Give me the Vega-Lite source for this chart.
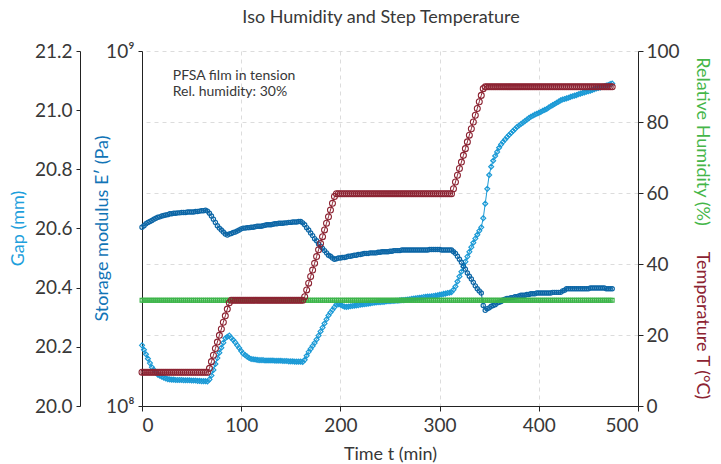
{
"$schema": "https://vega.github.io/schema/vega-lite/v6.json",
"width": 496, "height": 355,
"autosize": {"type": "none"},
"padding": {"left": 142, "top": 51, "right": 83, "bottom": 58},
"title": {"text": "Iso Humidity and Step Temperature", "fontSize": 18, "font": "Lato", "fontWeight": "normal", "color": "#383838", "anchor": "middle", "frame": "group", "offset": 15, "dx": -9},
"config": {
  "font": "Lato",
  "view": {"stroke": null},
  "axis": {"labelFontSize": 19, "titleFontSize": 18, "labelColor": "#383838", "titleColor": "#383838", "titleFontWeight": "normal", "domainColor": "#222222", "tickColor": "#222222", "gridColor": "#dcdcdc", "gridDash": [4, 4], "labelFont": "Lato", "titleFont": "Lato"}
},
"data": {"values": [
{"t":0,"gap":20.205,"E":3.19e8,"rh":29.8,"T":9.5},
{"t":2,"gap":20.190,"E":3.22e8,"rh":29.8,"T":9.5},
{"t":4,"gap":20.175,"E":3.26e8,"rh":29.8,"T":9.5},
{"t":6,"gap":20.160,"E":3.29e8,"rh":29.8,"T":9.5},
{"t":8,"gap":20.145,"E":3.31e8,"rh":29.8,"T":9.5},
{"t":10,"gap":20.131,"E":3.33e8,"rh":29.8,"T":9.5},
{"t":12,"gap":20.122,"E":3.36e8,"rh":29.8,"T":9.5},
{"t":14,"gap":20.114,"E":3.38e8,"rh":29.8,"T":9.5},
{"t":16,"gap":20.106,"E":3.40e8,"rh":29.8,"T":9.5},
{"t":18,"gap":20.102,"E":3.41e8,"rh":29.8,"T":9.5},
{"t":20,"gap":20.099,"E":3.43e8,"rh":29.8,"T":9.5},
{"t":22,"gap":20.096,"E":3.44e8,"rh":29.8,"T":9.5},
{"t":24,"gap":20.093,"E":3.45e8,"rh":29.8,"T":9.5},
{"t":26,"gap":20.091,"E":3.46e8,"rh":29.8,"T":9.5},
{"t":28,"gap":20.090,"E":3.48e8,"rh":29.8,"T":9.5},
{"t":30,"gap":20.089,"E":3.48e8,"rh":29.8,"T":9.5},
{"t":32,"gap":20.089,"E":3.49e8,"rh":29.8,"T":9.5},
{"t":34,"gap":20.088,"E":3.49e8,"rh":29.8,"T":9.5},
{"t":36,"gap":20.088,"E":3.50e8,"rh":29.8,"T":9.5},
{"t":38,"gap":20.088,"E":3.50e8,"rh":29.8,"T":9.5},
{"t":40,"gap":20.088,"E":3.51e8,"rh":29.8,"T":9.5},
{"t":42,"gap":20.087,"E":3.51e8,"rh":29.8,"T":9.5},
{"t":44,"gap":20.087,"E":3.51e8,"rh":29.8,"T":9.5},
{"t":46,"gap":20.087,"E":3.52e8,"rh":29.8,"T":9.5},
{"t":48,"gap":20.087,"E":3.52e8,"rh":29.8,"T":9.5},
{"t":50,"gap":20.086,"E":3.52e8,"rh":29.8,"T":9.5},
{"t":52,"gap":20.086,"E":3.52e8,"rh":29.8,"T":9.5},
{"t":54,"gap":20.086,"E":3.53e8,"rh":29.8,"T":9.5},
{"t":56,"gap":20.085,"E":3.53e8,"rh":29.8,"T":9.5},
{"t":58,"gap":20.085,"E":3.54e8,"rh":29.8,"T":9.5},
{"t":60,"gap":20.084,"E":3.55e8,"rh":29.8,"T":9.5},
{"t":62,"gap":20.084,"E":3.55e8,"rh":29.8,"T":9.5},
{"t":64,"gap":20.084,"E":3.56e8,"rh":29.8,"T":9.5},
{"t":66,"gap":20.083,"E":3.54e8,"rh":29.8,"T":9.5},
{"t":68,"gap":20.090,"E":3.49e8,"rh":29.8,"T":10.6},
{"t":70,"gap":20.103,"E":3.43e8,"rh":29.8,"T":12.5},
{"t":72,"gap":20.122,"E":3.36e8,"rh":29.8,"T":14.3},
{"t":74,"gap":20.142,"E":3.29e8,"rh":29.8,"T":16.2},
{"t":76,"gap":20.162,"E":3.22e8,"rh":29.8,"T":18.0},
{"t":78,"gap":20.180,"E":3.17e8,"rh":29.8,"T":19.9},
{"t":80,"gap":20.197,"E":3.13e8,"rh":29.8,"T":21.7},
{"t":82,"gap":20.214,"E":3.09e8,"rh":29.8,"T":23.6},
{"t":84,"gap":20.229,"E":3.05e8,"rh":29.8,"T":25.4},
{"t":86,"gap":20.234,"E":3.03e8,"rh":29.8,"T":27.3},
{"t":88,"gap":20.238,"E":3.05e8,"rh":29.8,"T":29.1},
{"t":90,"gap":20.230,"E":3.06e8,"rh":29.8,"T":29.8},
{"t":92,"gap":20.223,"E":3.08e8,"rh":29.8,"T":29.8},
{"t":94,"gap":20.215,"E":3.09e8,"rh":29.8,"T":29.8},
{"t":96,"gap":20.205,"E":3.11e8,"rh":29.8,"T":29.8},
{"t":98,"gap":20.196,"E":3.13e8,"rh":29.8,"T":29.8},
{"t":100,"gap":20.186,"E":3.155e8,"rh":29.8,"T":29.8},
{"t":102,"gap":20.177,"E":3.17e8,"rh":29.8,"T":29.8},
{"t":104,"gap":20.172,"E":3.17e8,"rh":29.8,"T":29.8},
{"t":106,"gap":20.167,"E":3.18e8,"rh":29.8,"T":29.8},
{"t":108,"gap":20.162,"E":3.18e8,"rh":29.8,"T":29.8},
{"t":110,"gap":20.159,"E":3.19e8,"rh":29.8,"T":29.8},
{"t":112,"gap":20.158,"E":3.19e8,"rh":29.8,"T":29.8},
{"t":114,"gap":20.157,"E":3.20e8,"rh":29.8,"T":29.8},
{"t":116,"gap":20.156,"E":3.21e8,"rh":29.8,"T":29.8},
{"t":118,"gap":20.155,"E":3.21e8,"rh":29.8,"T":29.8},
{"t":120,"gap":20.155,"E":3.21e8,"rh":29.8,"T":29.8},
{"t":122,"gap":20.155,"E":3.22e8,"rh":29.8,"T":29.8},
{"t":124,"gap":20.154,"E":3.23e8,"rh":29.8,"T":29.8},
{"t":126,"gap":20.154,"E":3.24e8,"rh":29.8,"T":29.8},
{"t":128,"gap":20.154,"E":3.24e8,"rh":29.8,"T":29.8},
{"t":130,"gap":20.154,"E":3.24e8,"rh":29.8,"T":29.8},
{"t":132,"gap":20.154,"E":3.25e8,"rh":29.8,"T":29.8},
{"t":134,"gap":20.153,"E":3.26e8,"rh":29.8,"T":29.8},
{"t":136,"gap":20.153,"E":3.26e8,"rh":29.8,"T":29.8},
{"t":138,"gap":20.153,"E":3.27e8,"rh":29.8,"T":29.8},
{"t":140,"gap":20.153,"E":3.27e8,"rh":29.8,"T":29.8},
{"t":142,"gap":20.152,"E":3.27e8,"rh":29.8,"T":29.8},
{"t":144,"gap":20.152,"E":3.28e8,"rh":29.8,"T":29.8},
{"t":146,"gap":20.152,"E":3.28e8,"rh":29.8,"T":29.8},
{"t":148,"gap":20.151,"E":3.29e8,"rh":29.8,"T":29.8},
{"t":150,"gap":20.151,"E":3.29e8,"rh":29.8,"T":29.8},
{"t":152,"gap":20.151,"E":3.30e8,"rh":29.8,"T":29.8},
{"t":154,"gap":20.150,"E":3.30e8,"rh":29.8,"T":29.8},
{"t":156,"gap":20.150,"E":3.30e8,"rh":29.8,"T":29.8},
{"t":158,"gap":20.150,"E":3.31e8,"rh":29.8,"T":29.8},
{"t":160,"gap":20.150,"E":3.31e8,"rh":29.8,"T":29.8},
{"t":162,"gap":20.149,"E":3.28e8,"rh":29.8,"T":29.8},
{"t":164,"gap":20.156,"E":3.24e8,"rh":29.8,"T":30.8},
{"t":166,"gap":20.170,"E":3.18e8,"rh":29.8,"T":32.7},
{"t":168,"gap":20.183,"E":3.13e8,"rh":29.8,"T":34.6},
{"t":170,"gap":20.193,"E":3.07e8,"rh":29.8,"T":36.5},
{"t":172,"gap":20.203,"E":3.02e8,"rh":29.8,"T":38.3},
{"t":174,"gap":20.213,"E":2.96e8,"rh":29.8,"T":40.2},
{"t":176,"gap":20.225,"E":2.92e8,"rh":29.8,"T":42.1},
{"t":178,"gap":20.238,"E":2.86e8,"rh":29.8,"T":44.0},
{"t":180,"gap":20.252,"E":2.82e8,"rh":29.8,"T":45.8},
{"t":182,"gap":20.265,"E":2.78e8,"rh":29.8,"T":47.7},
{"t":184,"gap":20.279,"E":2.74e8,"rh":29.8,"T":49.6},
{"t":186,"gap":20.293,"E":2.70e8,"rh":29.8,"T":51.5},
{"t":188,"gap":20.306,"E":2.66e8,"rh":29.8,"T":53.3},
{"t":190,"gap":20.316,"E":2.64e8,"rh":29.8,"T":55.2},
{"t":192,"gap":20.325,"E":2.61e8,"rh":29.8,"T":57.1},
{"t":194,"gap":20.334,"E":2.59e8,"rh":29.8,"T":59.0},
{"t":196,"gap":20.343,"E":2.60e8,"rh":29.8,"T":59.8},
{"t":198,"gap":20.344,"E":2.61e8,"rh":29.8,"T":59.8},
{"t":200,"gap":20.342,"E":2.61e8,"rh":29.8,"T":59.8},
{"t":202,"gap":20.339,"E":2.62e8,"rh":29.8,"T":59.8},
{"t":204,"gap":20.336,"E":2.62e8,"rh":29.8,"T":59.8},
{"t":206,"gap":20.335,"E":2.63e8,"rh":29.8,"T":59.8},
{"t":208,"gap":20.336,"E":2.64e8,"rh":29.8,"T":59.8},
{"t":210,"gap":20.337,"E":2.64e8,"rh":29.8,"T":59.8},
{"t":212,"gap":20.338,"E":2.65e8,"rh":29.8,"T":59.8},
{"t":214,"gap":20.339,"E":2.66e8,"rh":29.8,"T":59.8},
{"t":216,"gap":20.340,"E":2.66e8,"rh":29.8,"T":59.8},
{"t":218,"gap":20.341,"E":2.67e8,"rh":29.8,"T":59.8},
{"t":220,"gap":20.342,"E":2.67e8,"rh":29.8,"T":59.8},
{"t":222,"gap":20.343,"E":2.68e8,"rh":29.8,"T":59.8},
{"t":224,"gap":20.344,"E":2.69e8,"rh":29.8,"T":59.8},
{"t":226,"gap":20.345,"E":2.69e8,"rh":29.8,"T":59.8},
{"t":228,"gap":20.346,"E":2.69e8,"rh":29.8,"T":59.8},
{"t":230,"gap":20.347,"E":2.70e8,"rh":29.8,"T":59.8},
{"t":232,"gap":20.348,"E":2.70e8,"rh":29.8,"T":59.8},
{"t":234,"gap":20.349,"E":2.70e8,"rh":29.8,"T":59.8},
{"t":236,"gap":20.350,"E":2.70e8,"rh":29.8,"T":59.8},
{"t":238,"gap":20.351,"E":2.71e8,"rh":29.8,"T":59.8},
{"t":240,"gap":20.351,"E":2.71e8,"rh":29.8,"T":59.8},
{"t":242,"gap":20.352,"E":2.72e8,"rh":29.8,"T":59.8},
{"t":244,"gap":20.352,"E":2.72e8,"rh":29.8,"T":59.8},
{"t":246,"gap":20.353,"E":2.72e8,"rh":29.8,"T":59.8},
{"t":248,"gap":20.354,"E":2.72e8,"rh":29.8,"T":59.8},
{"t":250,"gap":20.354,"E":2.73e8,"rh":29.8,"T":59.8},
{"t":252,"gap":20.355,"E":2.73e8,"rh":29.8,"T":59.8},
{"t":254,"gap":20.355,"E":2.74e8,"rh":29.8,"T":59.8},
{"t":256,"gap":20.356,"E":2.74e8,"rh":29.8,"T":59.8},
{"t":258,"gap":20.356,"E":2.74e8,"rh":29.8,"T":59.8},
{"t":260,"gap":20.357,"E":2.74e8,"rh":29.8,"T":59.8},
{"t":262,"gap":20.358,"E":2.75e8,"rh":29.8,"T":59.8},
{"t":264,"gap":20.358,"E":2.75e8,"rh":29.8,"T":59.8},
{"t":266,"gap":20.359,"E":2.75e8,"rh":29.8,"T":59.8},
{"t":268,"gap":20.360,"E":2.75e8,"rh":29.8,"T":59.8},
{"t":270,"gap":20.361,"E":2.75e8,"rh":29.8,"T":59.8},
{"t":272,"gap":20.362,"E":2.75e8,"rh":29.8,"T":59.8},
{"t":274,"gap":20.363,"E":2.75e8,"rh":29.8,"T":59.8},
{"t":276,"gap":20.364,"E":2.75e8,"rh":29.8,"T":59.8},
{"t":278,"gap":20.365,"E":2.75e8,"rh":29.8,"T":59.8},
{"t":280,"gap":20.366,"E":2.75e8,"rh":29.8,"T":59.8},
{"t":282,"gap":20.367,"E":2.75e8,"rh":29.8,"T":59.8},
{"t":284,"gap":20.368,"E":2.75e8,"rh":29.8,"T":59.8},
{"t":286,"gap":20.369,"E":2.75e8,"rh":29.8,"T":59.8},
{"t":288,"gap":20.370,"E":2.75e8,"rh":29.8,"T":59.8},
{"t":290,"gap":20.370,"E":2.76e8,"rh":29.8,"T":59.8},
{"t":292,"gap":20.371,"E":2.76e8,"rh":29.8,"T":59.8},
{"t":294,"gap":20.372,"E":2.76e8,"rh":29.8,"T":59.8},
{"t":296,"gap":20.373,"E":2.76e8,"rh":29.8,"T":59.8},
{"t":298,"gap":20.374,"E":2.76e8,"rh":29.8,"T":59.8},
{"t":300,"gap":20.376,"E":2.76e8,"rh":29.8,"T":59.8},
{"t":302,"gap":20.377,"E":2.75e8,"rh":29.8,"T":59.8},
{"t":304,"gap":20.379,"E":2.75e8,"rh":29.8,"T":59.8},
{"t":306,"gap":20.380,"E":2.75e8,"rh":29.8,"T":59.8},
{"t":308,"gap":20.382,"E":2.75e8,"rh":29.8,"T":59.8},
{"t":310,"gap":20.383,"E":2.75e8,"rh":29.8,"T":59.8},
{"t":312,"gap":20.385,"E":2.75e8,"rh":29.8,"T":59.8},
{"t":314,"gap":20.393,"E":2.72e8,"rh":29.8,"T":61.2},
{"t":316,"gap":20.404,"E":2.69e8,"rh":29.8,"T":63.1},
{"t":318,"gap":20.421,"E":2.64e8,"rh":29.8,"T":65.0},
{"t":320,"gap":20.438,"E":2.59e8,"rh":29.8,"T":66.9},
{"t":322,"gap":20.454,"E":2.54e8,"rh":29.8,"T":68.7},
{"t":324,"gap":20.471,"E":2.48e8,"rh":29.8,"T":70.6},
{"t":326,"gap":20.488,"E":2.43e8,"rh":29.8,"T":72.5},
{"t":328,"gap":20.505,"E":2.37e8,"rh":29.8,"T":74.4},
{"t":330,"gap":20.521,"E":2.32e8,"rh":29.8,"T":76.3},
{"t":332,"gap":20.537,"E":2.28e8,"rh":29.8,"T":78.1},
{"t":334,"gap":20.552,"E":2.23e8,"rh":29.8,"T":80.0},
{"t":336,"gap":20.566,"E":2.18e8,"rh":29.8,"T":81.9},
{"t":338,"gap":20.579,"E":2.14e8,"rh":29.8,"T":83.8},
{"t":340,"gap":20.592,"E":2.11e8,"rh":29.8,"T":85.7},
{"t":342,"gap":20.604,"E":2.08e8,"rh":29.8,"T":87.5},
{"t":344,"gap":20.635,"E":1.92e8,"rh":29.8,"T":89.4},
{"t":346,"gap":20.684,"E":1.86e8,"rh":29.8,"T":89.9},
{"t":348,"gap":20.734,"E":1.88e8,"rh":29.8,"T":89.9},
{"t":350,"gap":20.781,"E":1.89e8,"rh":29.8,"T":89.9},
{"t":352,"gap":20.809,"E":1.91e8,"rh":29.8,"T":89.9},
{"t":354,"gap":20.829,"E":1.92e8,"rh":29.8,"T":89.9},
{"t":356,"gap":20.845,"E":1.93e8,"rh":29.8,"T":89.9},
{"t":358,"gap":20.859,"E":1.95e8,"rh":29.8,"T":89.9},
{"t":360,"gap":20.873,"E":1.96e8,"rh":29.8,"T":89.9},
{"t":362,"gap":20.884,"E":1.97e8,"rh":29.8,"T":89.9},
{"t":364,"gap":20.893,"E":1.99e8,"rh":29.8,"T":89.9},
{"t":366,"gap":20.901,"E":2.00e8,"rh":29.8,"T":89.9},
{"t":368,"gap":20.909,"E":2.01e8,"rh":29.8,"T":89.9},
{"t":370,"gap":20.916,"E":2.01e8,"rh":29.8,"T":89.9},
{"t":372,"gap":20.923,"E":2.02e8,"rh":29.8,"T":89.9},
{"t":374,"gap":20.930,"E":2.02e8,"rh":29.8,"T":89.9},
{"t":376,"gap":20.936,"E":2.03e8,"rh":29.8,"T":89.9},
{"t":378,"gap":20.943,"E":2.03e8,"rh":29.8,"T":89.9},
{"t":380,"gap":20.948,"E":2.04e8,"rh":29.8,"T":89.9},
{"t":382,"gap":20.953,"E":2.05e8,"rh":29.8,"T":89.9},
{"t":384,"gap":20.958,"E":2.05e8,"rh":29.8,"T":89.9},
{"t":386,"gap":20.963,"E":2.05e8,"rh":29.8,"T":89.9},
{"t":388,"gap":20.968,"E":2.06e8,"rh":29.8,"T":89.9},
{"t":390,"gap":20.973,"E":2.06e8,"rh":29.8,"T":89.9},
{"t":392,"gap":20.978,"E":2.07e8,"rh":29.8,"T":89.9},
{"t":394,"gap":20.981,"E":2.07e8,"rh":29.8,"T":89.9},
{"t":396,"gap":20.985,"E":2.07e8,"rh":29.8,"T":89.9},
{"t":398,"gap":20.988,"E":2.08e8,"rh":29.8,"T":89.9},
{"t":400,"gap":20.991,"E":2.08e8,"rh":29.8,"T":89.9},
{"t":402,"gap":20.994,"E":2.08e8,"rh":29.8,"T":89.9},
{"t":404,"gap":20.998,"E":2.08e8,"rh":29.8,"T":89.9},
{"t":406,"gap":21.001,"E":2.08e8,"rh":29.8,"T":89.9},
{"t":408,"gap":21.004,"E":2.08e8,"rh":29.8,"T":89.9},
{"t":410,"gap":21.009,"E":2.08e8,"rh":29.8,"T":89.9},
{"t":412,"gap":21.013,"E":2.08e8,"rh":29.8,"T":89.9},
{"t":414,"gap":21.017,"E":2.09e8,"rh":29.8,"T":89.9},
{"t":416,"gap":21.021,"E":2.09e8,"rh":29.8,"T":89.9},
{"t":418,"gap":21.025,"E":2.09e8,"rh":29.8,"T":89.9},
{"t":420,"gap":21.029,"E":2.09e8,"rh":29.8,"T":89.9},
{"t":422,"gap":21.033,"E":2.09e8,"rh":29.8,"T":89.9},
{"t":424,"gap":21.036,"E":2.11e8,"rh":29.8,"T":89.9},
{"t":426,"gap":21.038,"E":2.12e8,"rh":29.8,"T":89.9},
{"t":428,"gap":21.040,"E":2.14e8,"rh":29.8,"T":89.9},
{"t":430,"gap":21.042,"E":2.14e8,"rh":29.8,"T":89.9},
{"t":432,"gap":21.045,"E":2.14e8,"rh":29.8,"T":89.9},
{"t":434,"gap":21.047,"E":2.14e8,"rh":29.8,"T":89.9},
{"t":436,"gap":21.049,"E":2.14e8,"rh":29.8,"T":89.9},
{"t":438,"gap":21.051,"E":2.14e8,"rh":29.8,"T":89.9},
{"t":440,"gap":21.054,"E":2.14e8,"rh":29.8,"T":89.9},
{"t":442,"gap":21.056,"E":2.14e8,"rh":29.8,"T":89.9},
{"t":444,"gap":21.058,"E":2.14e8,"rh":29.8,"T":89.9},
{"t":446,"gap":21.060,"E":2.14e8,"rh":29.8,"T":89.9},
{"t":448,"gap":21.062,"E":2.14e8,"rh":29.8,"T":89.9},
{"t":450,"gap":21.064,"E":2.14e8,"rh":29.8,"T":89.9},
{"t":452,"gap":21.066,"E":2.15e8,"rh":29.8,"T":89.9},
{"t":454,"gap":21.068,"E":2.15e8,"rh":29.8,"T":89.9},
{"t":456,"gap":21.071,"E":2.15e8,"rh":29.8,"T":89.9},
{"t":458,"gap":21.073,"E":2.15e8,"rh":29.8,"T":89.9},
{"t":460,"gap":21.075,"E":2.15e8,"rh":29.8,"T":89.9},
{"t":462,"gap":21.077,"E":2.15e8,"rh":29.8,"T":89.9},
{"t":464,"gap":21.079,"E":2.15e8,"rh":29.8,"T":89.9},
{"t":466,"gap":21.081,"E":2.15e8,"rh":29.8,"T":89.9},
{"t":468,"gap":21.083,"E":2.14e8,"rh":29.8,"T":89.9},
{"t":470,"gap":21.085,"E":2.14e8,"rh":29.8,"T":89.9},
{"t":472,"gap":21.088,"E":2.14e8,"rh":29.8,"T":89.9},
{"t":474,"gap":21.090,"E":2.14e8,"rh":29.8,"T":89.9}
]},
"layer": [
  {
    "mark": {"type": "line", "color": "#1b9ad6", "strokeWidth": 1, "point": {"filled": false, "shape": "diamond", "size": 24, "strokeWidth": 1.2, "color": "#1b9ad6"}},
    "encoding": {
      "x": {"field": "t", "type": "quantitative", "scale": {"domain": [0, 500], "nice": false},
            "axis": {"values": [0, 100, 200, 300, 400, 500], "title": "Time t (min)", "titleFontWeight": "normal", "grid": true, "tickSize": 5, "labelPadding": 5, "titlePadding": 10}},
      "y": {"field": "gap", "type": "quantitative", "scale": {"domain": [20, 21.2], "nice": false, "zero": false},
            "axis": {"orient": "left", "offset": 62, "values": [20, 20.2, 20.4, 20.6, 20.8, 21, 21.2], "format": ".1f", "grid": false, "tickSize": 4, "labelPadding": 4,
                     "title": "Gap (mm)", "titleColor": "#1ea0dc", "titleX": -62, "titleY": 177, "titleAngle": -90, "titleBaseline": "middle", "titleAlign": "center"}}
    }
  },
  {
    "mark": {"type": "line", "color": "#0c66a6", "strokeWidth": 1, "point": {"filled": false, "shape": "circle", "size": 18, "strokeWidth": 1.2, "color": "#0c66a6"}},
    "encoding": {
      "x": {"field": "t", "type": "quantitative"},
      "y": {"field": "E", "type": "quantitative", "scale": {"type": "log", "domain": [1e8, 1e9], "nice": false},
            "axis": {"orient": "left", "values": [1e8, 1e9], "labelExpr": "datum.value > 5e8 ? '10⁹' : '10⁸'", "grid": false, "tickSize": 4, "labelPadding": 4,
                     "title": "Storage modulus E′ (Pa)", "titleColor": "#1174b6", "titleX": -40, "titleY": 177, "titleAngle": -90, "titleBaseline": "middle", "titleAlign": "center"}}
    }
  },
  {
    "mark": {"type": "line", "color": "#3db54a", "strokeWidth": 1, "point": {"filled": false, "shape": "square", "size": 14, "strokeWidth": 1.2, "color": "#3db54a"}},
    "encoding": {
      "x": {"field": "t", "type": "quantitative"},
      "y": {"field": "rh", "type": "quantitative", "scale": {"domain": [0, 100], "nice": false},
            "axis": {"orient": "right", "labels": false, "ticks": false, "domain": false, "grid": false,
                     "title": "Relative Humidity (%)", "titleColor": "#45b649", "titleX": 63, "titleY": 90, "titleAngle": 90, "titleBaseline": "middle", "titleAlign": "center"}}
    }
  },
  {
    "mark": {"type": "line", "color": "#8c2332", "strokeWidth": 1, "point": {"filled": false, "shape": "circle", "size": 35, "strokeWidth": 1.1, "color": "#8c2332"}},
    "encoding": {
      "x": {"field": "t", "type": "quantitative"},
      "y": {"field": "T", "type": "quantitative", "scale": {"domain": [0, 100], "nice": false},
            "axis": {"orient": "right", "values": [0, 20, 40, 60, 80, 100], "grid": true, "tickSize": 5, "labelPadding": 3,
                     "title": "Temperature T (°C)", "titleColor": "#8c2332", "titleX": 63, "titleY": 274, "titleAngle": 90, "titleBaseline": "middle", "titleAlign": "center"}}
    }
  },
  {
    "data": {"values": [{"note": ["PFSA film in tension", "Rel. humidity: 30%"]}]},
    "mark": {"type": "text", "align": "left", "baseline": "middle", "fontSize": 14, "lineHeight": 16, "color": "#383838", "font": "Lato"},
    "encoding": {
      "x": {"datum": 31, "type": "quantitative"},
      "y": {"datum": 92.9, "type": "quantitative", "scale": {"domain": [0, 100], "nice": false}, "axis": null},
      "text": {"field": "note"}
    }
  }
],
"resolve": {"scale": {"y": "independent"}}
}
